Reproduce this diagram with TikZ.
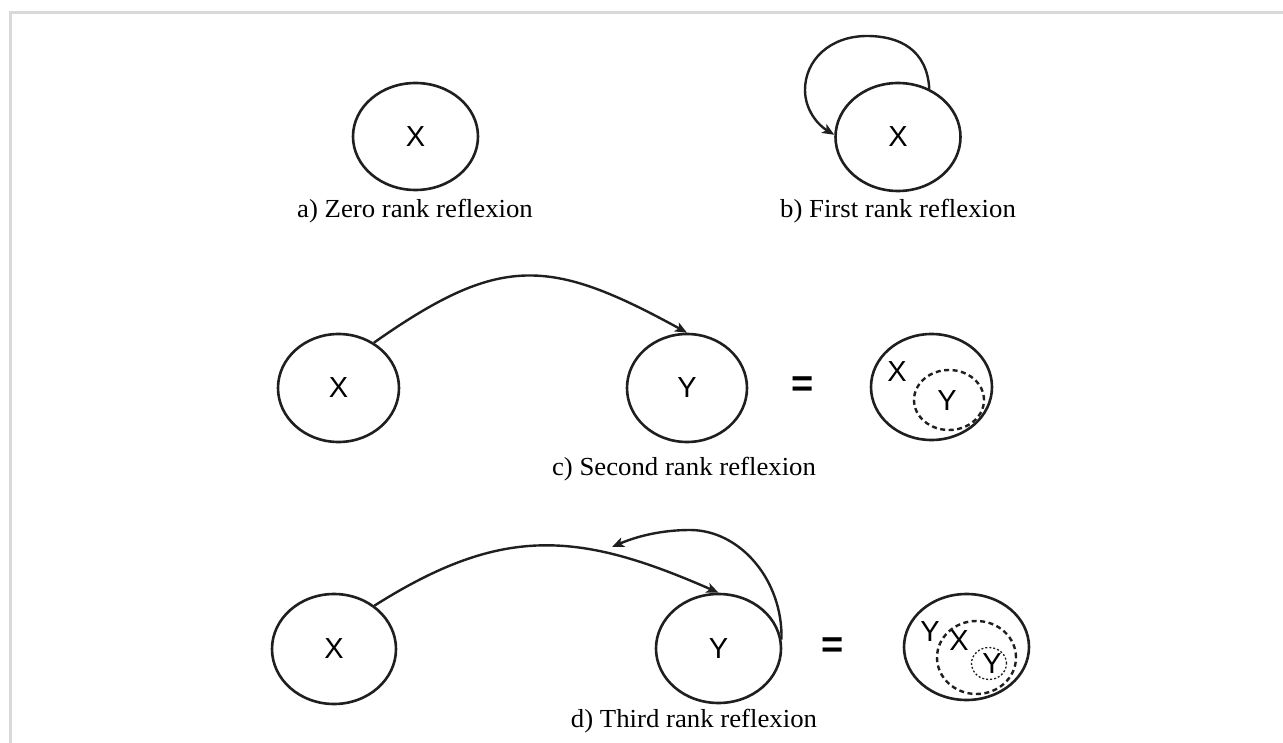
\documentclass[tikz,border=0pt]{standalone}
\usepackage{fontspec}
\setmainfont{Liberation Serif}
\newfontfamily\captfont[FakeStretch=1.03]{Liberation Serif}
\newfontfamily\lettfont{Liberation Sans}
\usetikzlibrary{shapes.geometric,arrows.meta}
\begin{document}
\begin{tikzpicture}[x=1pt,y=-1pt,
  ell/.style={draw=black!88, line width=2.6pt, ellipse, inner sep=0pt,
    font=\lettfont\fontsize{29}{29}\selectfont},
  dashell/.style={ell, line width=2.4pt, dash pattern=on 5pt off 3.5pt},
  dotell/.style={ell, line width=1.3pt, dash pattern=on 2pt off 2pt},
  lett/.style={font=\lettfont\fontsize{29}{29}\selectfont, inner sep=0pt},
  capt/.style={font=\captfont\fontsize{26}{26}\selectfont, anchor=base, inner sep=0pt},
  eqs/.style={font=\lettfont\bfseries\fontsize{38}{38}\selectfont, inner sep=0pt},
  arc/.style={draw=black!88, line width=2.4pt},
  arr/.style={arc, -{Stealth[length=12pt,width=10pt,inset=3pt]}}]
\useasboundingbox (0,0) rectangle (1283,743);
\draw[line width=2.5pt, draw=black!15] (10.5,743) -- (10.5,12.5) -- (1283,12.5);

% a)
\node[ell, minimum width=125pt, minimum height=107pt] (ax) at (415.5,136.5) {X};
\node[capt] (acap) at (415,218) {a) Zero rank reflexion};

% b)
\node[ell, minimum width=125pt, minimum height=108pt] (bx) at (898,137) {X};
\node[capt] (bcap) at (898,218) {b) First rank reflexion};
\draw[arr] (bx.57) .. controls (927,50) and (900,36) .. (867,36)
  .. controls (830,36) and (805,60) .. (805,90)
  .. controls (805,110) and (818,125) .. (bx.178);

% c)
\node[ell, minimum width=121pt, minimum height=108pt] (cx) at (338.5,388) {X};
\node[ell, minimum width=120pt, minimum height=108pt] (cy) at (687,388) {Y};
\draw[arr] (cx.52) .. controls (500,254) and (549,257) .. (cy.north);
\node[eqs] (ceq) at (803,387) {=};
\node[ell, minimum width=121pt, minimum height=106pt] (cr) at (931.5,387) {};
\node[dashell, minimum width=70pt, minimum height=60pt] (crd) at (949,400) {};
\node[lett] (crx) at (897,372) {X};
\node[lett] (cry) at (947,401) {Y};
\node[capt] (ccap) at (684,475) {c) Second rank reflexion};

% d)
\node[ell, minimum width=124pt, minimum height=110pt] (dx) at (334,649) {X};
\node[ell, minimum width=125pt, minimum height=109pt] (dy) at (718.5,648.5) {Y};
\coordinate (dret) at (612,547);
\draw[arr] (dx.47) .. controls (502,525) and (578,531) .. (dy.north);
\draw[arr] (dy.8) .. controls (783,580) and (740,530) .. (690,530)
  .. controls (660,530) and (635,537) .. (dret);
\node[eqs] (deq) at (833,648) {=};
\node[ell, minimum width=125pt, minimum height=106pt] (dr) at (966.5,647) {};
\node[dashell, minimum width=79pt, minimum height=73pt] (drd) at (976.5,657.5) {};
\node[dotell, minimum width=35pt, minimum height=32pt] (drs) at (989,663.5) {};
\node[lett] (dry1) at (930,632) {Y};
\node[lett] (drx) at (959,641) {X};
\node[lett] (dry2) at (992,664) {Y};
\node[capt] (dcap) at (694,727) {d) Third rank reflexion};
\end{tikzpicture}
\end{document}
